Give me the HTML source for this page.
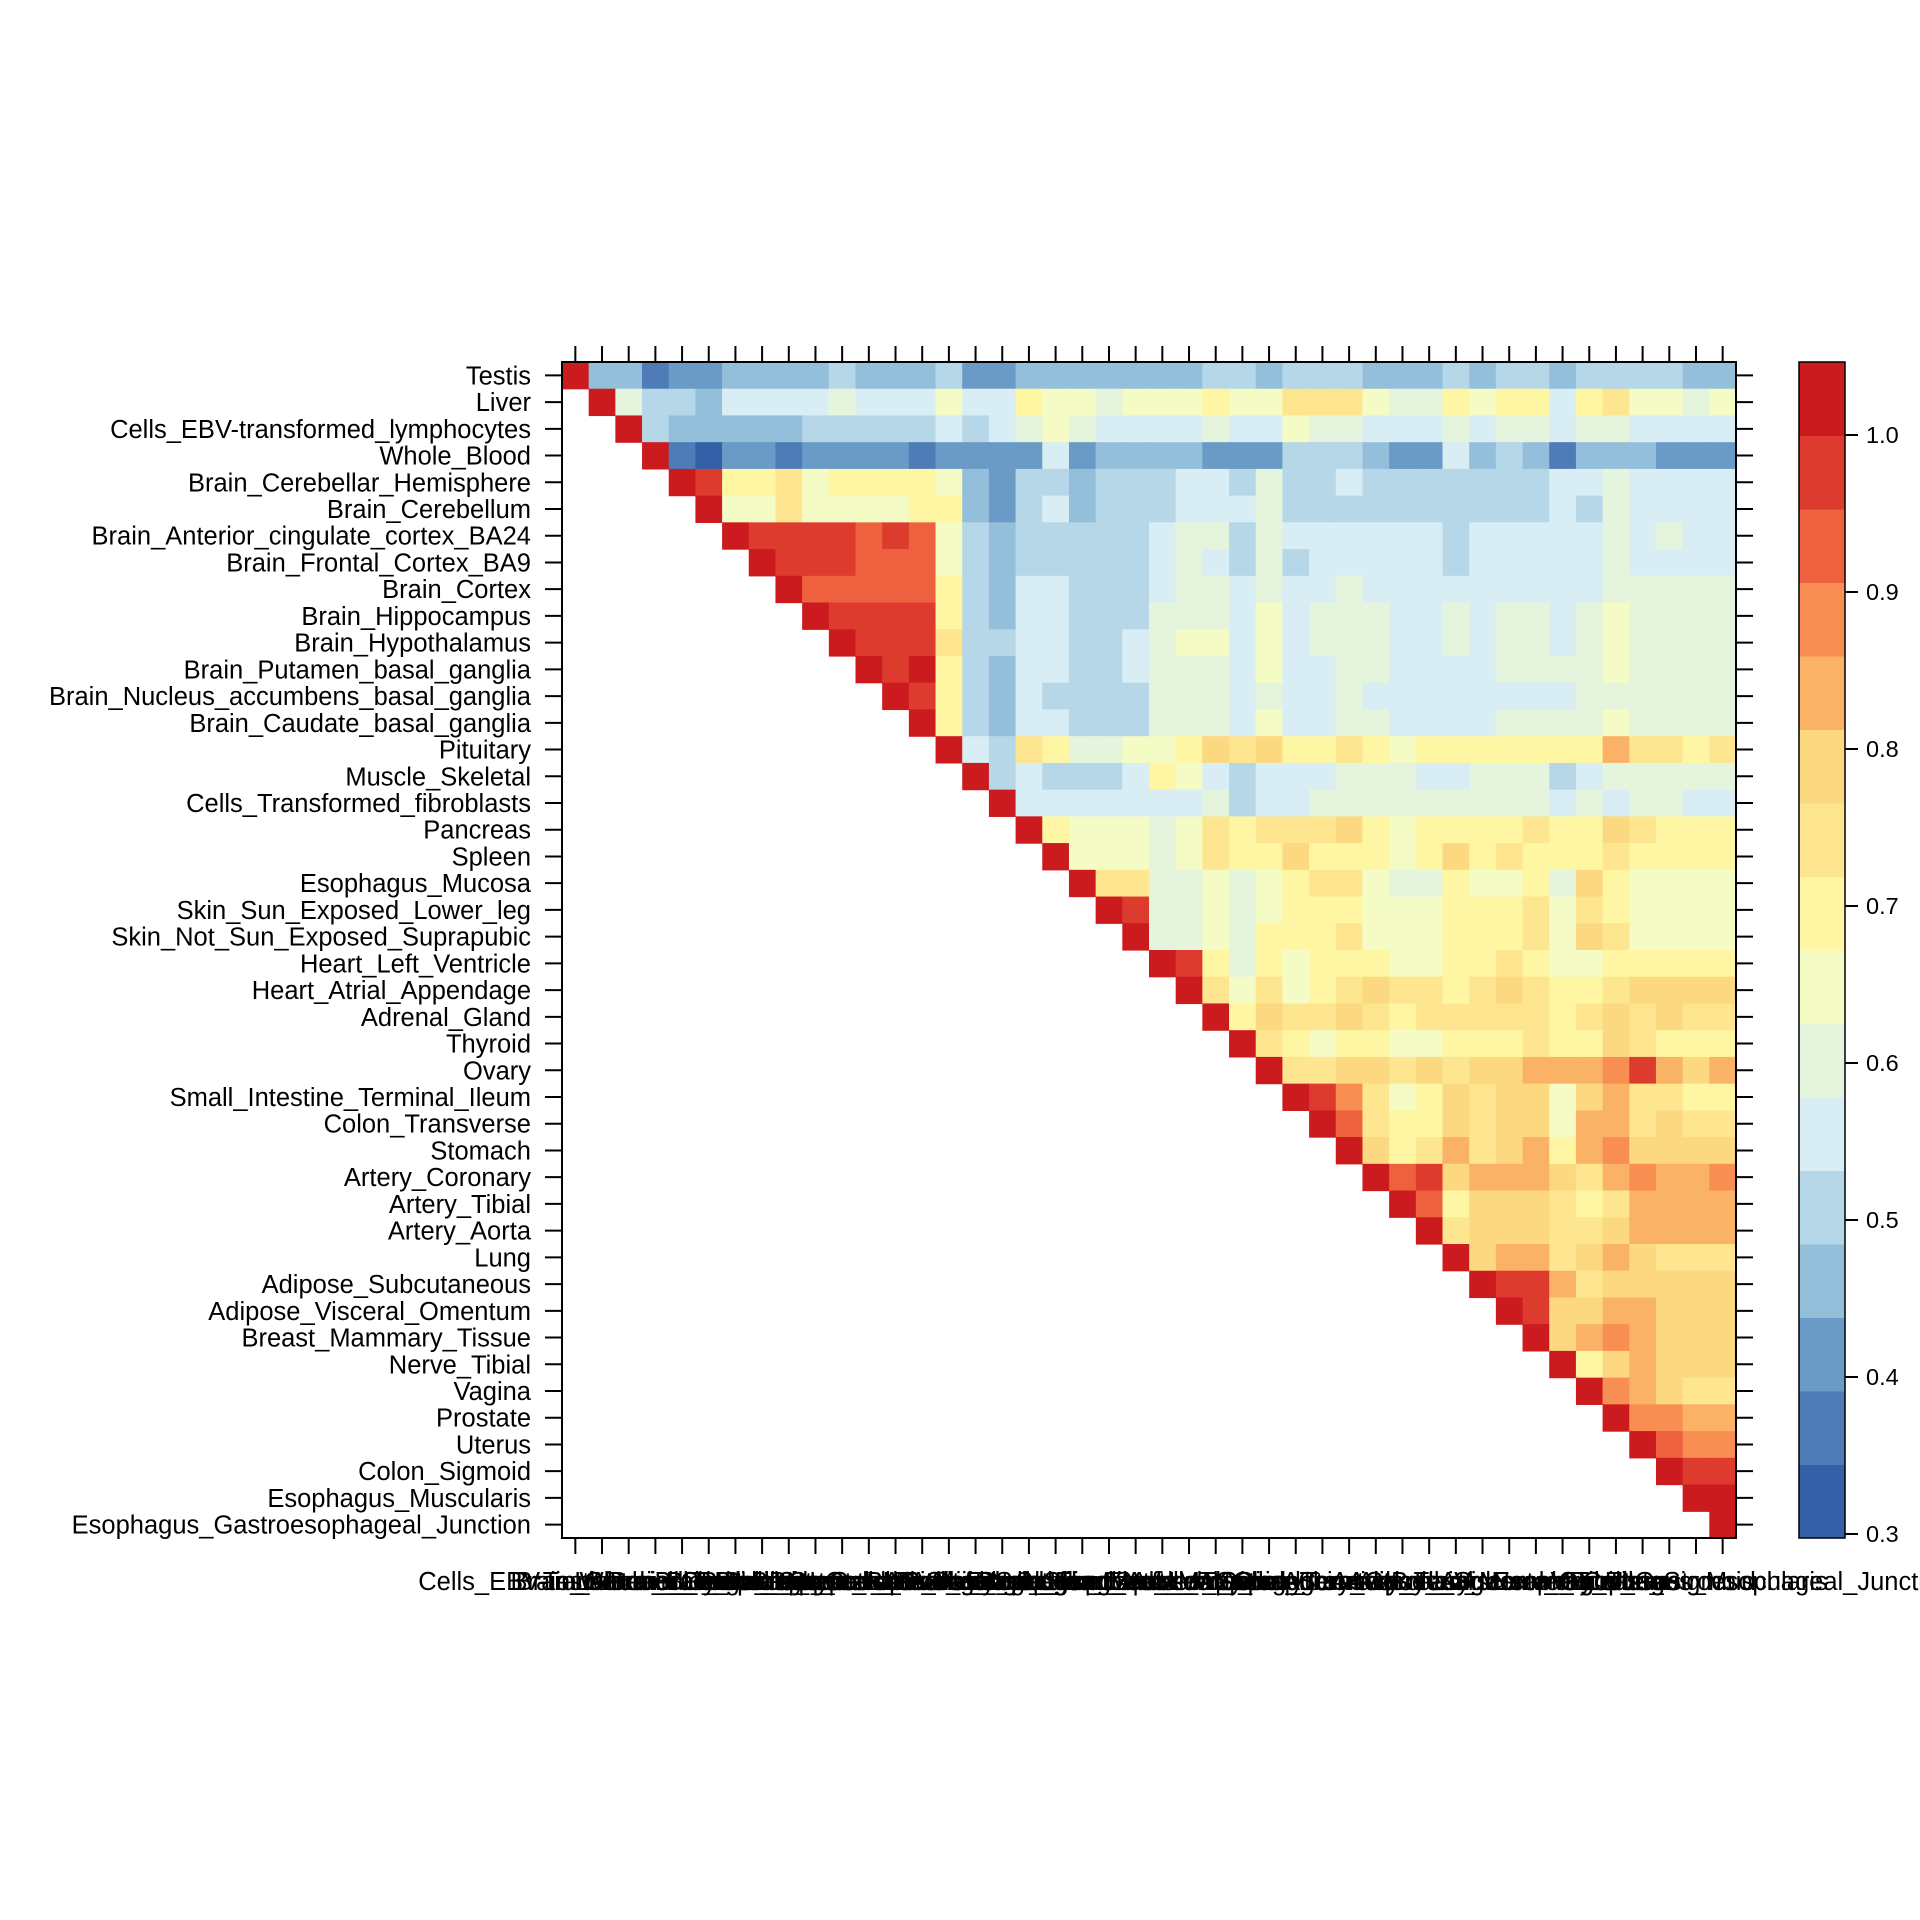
<!DOCTYPE html>
<html><head><meta charset="utf-8">
<style>
html,body{margin:0;padding:0;background:#fff;}
svg{display:block;}
text{font-family:"Liberation Sans",Arial,sans-serif;fill:#000;}
</style></head>
<body>
<svg id="chart" width="1920" height="1920" viewBox="0 0 1920 1920" xmlns="http://www.w3.org/2000/svg">
<rect width="1920" height="1920" fill="#fff"/>
<g id="cells"></g>
<g id="axes"></g>
<g id="legend"></g>
</svg>
<script>
const tissues = ["Testis","Liver","Cells_EBV-transformed_lymphocytes","Whole_Blood","Brain_Cerebellar_Hemisphere","Brain_Cerebellum","Brain_Anterior_cingulate_cortex_BA24","Brain_Frontal_Cortex_BA9","Brain_Cortex","Brain_Hippocampus","Brain_Hypothalamus","Brain_Putamen_basal_ganglia","Brain_Nucleus_accumbens_basal_ganglia","Brain_Caudate_basal_ganglia","Pituitary","Muscle_Skeletal","Cells_Transformed_fibroblasts","Pancreas","Spleen","Esophagus_Mucosa","Skin_Sun_Exposed_Lower_leg","Skin_Not_Sun_Exposed_Suprapubic","Heart_Left_Ventricle","Heart_Atrial_Appendage","Adrenal_Gland","Thyroid","Ovary","Small_Intestine_Terminal_Ileum","Colon_Transverse","Stomach","Artery_Coronary","Artery_Tibial","Artery_Aorta","Lung","Adipose_Subcutaneous","Adipose_Visceral_Omentum","Breast_Mammary_Tissue","Nerve_Tibial","Vagina","Prostate","Uterus","Colon_Sigmoid","Esophagus_Muscularis","Esophagus_Gastroesophageal_Junction"];
const legendTicks = [0.3,0.4,0.5,0.6,0.7,0.8,0.9,1.0];
const legendColors = ["#3560A7","#4F7BB7","#6A9AC6","#94BFDB","#B6D7E8","#D9EEF4","#E5F5DD","#F5FBC4","#FEF6A2","#FDE68F","#FCD880","#FAB267","#F98E52","#EE613F","#DC3B2E","#CB1B1E"];
// upper-triangle correlations; row i starts at column i
const corr = [
[1,.47,.47,.38,.42,.42,.47,.47,.47,.47,.52,.47,.47,.47,.52,.42,.42,.47,.47,.47,.47,.47,.47,.47,.52,.52,.47,.52,.52,.52,.47,.47,.47,.52,.47,.52,.52,.47,.52,.52,.52,.52,.47,.47],
[1,.61,.52,.52,.47,.56,.56,.56,.56,.61,.56,.56,.56,.65,.56,.56,.70,.65,.65,.61,.65,.65,.65,.70,.65,.65,.75,.75,.75,.65,.61,.61,.70,.65,.70,.70,.56,.70,.75,.65,.65,.61,.65],
[1,.52,.47,.47,.47,.47,.47,.52,.52,.52,.52,.52,.56,.52,.56,.61,.65,.61,.56,.56,.56,.56,.61,.56,.56,.65,.61,.61,.56,.56,.56,.61,.56,.61,.61,.56,.61,.61,.56,.56,.56,.56],
[1,.38,.33,.42,.42,.38,.42,.42,.42,.42,.38,.42,.42,.42,.42,.56,.42,.47,.47,.47,.47,.42,.42,.42,.52,.52,.52,.47,.42,.42,.56,.47,.52,.47,.38,.47,.47,.47,.42,.42,.42],
[1,.98,.70,.70,.75,.65,.70,.70,.70,.70,.65,.47,.42,.52,.52,.47,.52,.52,.52,.56,.56,.52,.61,.52,.52,.56,.52,.52,.52,.52,.52,.52,.52,.56,.56,.61,.56,.56,.56,.56],
[1,.65,.65,.75,.65,.65,.65,.65,.70,.70,.47,.42,.52,.56,.47,.52,.52,.52,.56,.56,.56,.61,.52,.52,.52,.52,.52,.52,.52,.52,.52,.52,.56,.52,.61,.56,.56,.56,.56],
[1,.98,.98,.98,.98,.93,.98,.93,.65,.52,.47,.52,.52,.52,.52,.52,.56,.61,.61,.52,.61,.56,.56,.56,.56,.56,.56,.52,.56,.56,.56,.56,.56,.61,.56,.61,.56,.56],
[1,.98,.98,.98,.93,.93,.93,.65,.52,.47,.52,.52,.52,.52,.52,.56,.61,.56,.52,.61,.52,.56,.56,.56,.56,.56,.52,.56,.56,.56,.56,.56,.61,.56,.56,.56,.56],
[1,.93,.93,.93,.93,.93,.70,.52,.47,.56,.56,.52,.52,.52,.56,.61,.61,.56,.61,.56,.56,.61,.56,.56,.56,.56,.56,.56,.56,.56,.56,.61,.61,.61,.61,.61],
[1,.98,.98,.98,.98,.70,.52,.47,.56,.56,.52,.52,.52,.61,.61,.61,.56,.65,.56,.61,.61,.61,.56,.56,.61,.56,.61,.61,.56,.61,.65,.61,.61,.61,.61],
[1,.98,.98,.98,.75,.52,.52,.56,.56,.52,.52,.56,.61,.65,.65,.56,.65,.56,.61,.61,.61,.56,.56,.61,.56,.61,.61,.56,.61,.65,.61,.61,.61,.61],
[1,.98,1,.70,.52,.47,.56,.56,.52,.52,.56,.61,.61,.61,.56,.65,.56,.56,.61,.61,.56,.56,.56,.56,.61,.61,.61,.61,.65,.61,.61,.61,.61],
[1,.98,.70,.52,.47,.56,.52,.52,.52,.52,.61,.61,.61,.56,.61,.56,.56,.61,.56,.56,.56,.56,.56,.56,.56,.56,.61,.61,.61,.61,.61,.61],
[1,.70,.52,.47,.56,.56,.52,.52,.52,.61,.61,.61,.56,.65,.56,.56,.61,.61,.56,.56,.56,.56,.61,.61,.61,.61,.65,.61,.61,.61,.61],
[1,.56,.52,.75,.70,.61,.61,.65,.65,.70,.79,.75,.79,.70,.70,.75,.70,.65,.70,.70,.70,.70,.70,.70,.70,.84,.75,.75,.70,.75],
[1,.52,.56,.52,.52,.52,.56,.70,.65,.56,.52,.56,.56,.56,.61,.61,.61,.56,.56,.61,.61,.61,.52,.56,.61,.61,.61,.61,.61],
[1,.56,.56,.56,.56,.56,.56,.56,.61,.52,.56,.56,.61,.61,.61,.61,.61,.61,.61,.61,.61,.56,.61,.56,.61,.61,.56,.56],
[1,.70,.65,.65,.65,.61,.65,.75,.70,.75,.75,.75,.79,.70,.65,.70,.70,.70,.70,.75,.70,.70,.79,.75,.70,.70,.70],
[1,.65,.65,.65,.61,.65,.75,.70,.70,.79,.70,.70,.70,.65,.70,.79,.70,.75,.70,.70,.70,.75,.70,.70,.70,.70],
[1,.75,.75,.61,.61,.65,.61,.65,.70,.75,.75,.65,.61,.61,.70,.65,.65,.70,.61,.79,.70,.65,.65,.65,.65],
[1,.98,.61,.61,.65,.61,.65,.70,.70,.70,.65,.65,.65,.70,.70,.70,.75,.65,.75,.70,.65,.65,.65,.65],
[1,.61,.61,.65,.61,.70,.70,.70,.75,.65,.65,.65,.70,.70,.70,.75,.65,.79,.75,.65,.65,.65,.65],
[1,.98,.70,.61,.70,.65,.70,.70,.70,.65,.65,.70,.70,.75,.70,.65,.65,.70,.70,.70,.70,.70],
[1,.75,.65,.75,.65,.70,.75,.79,.75,.75,.70,.75,.79,.75,.70,.70,.75,.79,.79,.79,.79],
[1,.70,.79,.75,.75,.79,.75,.70,.75,.75,.75,.75,.75,.70,.75,.79,.75,.79,.75,.75],
[1,.75,.70,.65,.70,.70,.65,.65,.70,.70,.70,.75,.70,.70,.79,.75,.70,.70,.70],
[1,.75,.75,.79,.79,.75,.79,.75,.79,.79,.84,.84,.84,.88,.98,.84,.79,.84],
[1,.98,.88,.75,.65,.70,.79,.75,.79,.79,.65,.79,.84,.75,.75,.70,.70],
[1,.93,.75,.70,.70,.79,.75,.79,.79,.65,.84,.84,.75,.79,.75,.75],
[1,.79,.70,.75,.84,.75,.79,.84,.70,.84,.88,.79,.79,.79,.79],
[1,.93,.98,.79,.84,.84,.84,.79,.75,.84,.88,.84,.84,.88],
[1,.93,.70,.79,.79,.79,.75,.70,.75,.84,.84,.84,.84],
[1,.75,.79,.79,.79,.75,.75,.79,.84,.84,.84,.84],
[1,.79,.84,.84,.75,.79,.84,.79,.75,.75,.75],
[1,.98,.98,.84,.75,.79,.79,.79,.79,.79],
[1,.98,.79,.79,.84,.84,.79,.79,.79],
[1,.79,.84,.88,.84,.79,.79,.79],
[1,.70,.79,.84,.79,.79,.79],
[1,.88,.84,.79,.75,.75],
[1,.88,.88,.84,.84],
[1,.93,.88,.88],
[1,.98,.98],
[1,1],
[1]
];

const NS = "http://www.w3.org/2000/svg";
const X0 = 562, X1 = 1736, Y0 = 362, Y1 = 1538;
const n = tissues.length;
const cw = (X1 - X0) / n, ch = (Y1 - Y0) / n;
const binLo = 0.3075, binW = 0.04615;
function colorOf(v){ let k = Math.floor((v - binLo) / binW); if (k < 0) k = 0; if (k > 15) k = 15; return legendColors[k]; }
function xPos(j){ return X0 + j * cw; }
function yPos(i){ return Y0 + i * ch; }
function mk(tag, attrs, parent){ const e = document.createElementNS(NS, tag); for (const k in attrs) e.setAttribute(k, attrs[k]); parent.appendChild(e); return e; }

const cells = document.getElementById("cells");
corr.forEach((row, i) => {
  row.forEach((v, k) => {
    const j = i + k;
    const r = mk("rect", {x: xPos(j).toFixed(2), y: yPos(i).toFixed(2), width: (cw + 0.6).toFixed(2), height: (ch + 0.6).toFixed(2), fill: colorOf(v)}, cells);
    
    
  });
});

const axes = document.getElementById("axes");
const frame = mk("rect", {x: X0, y: Y0, width: X1 - X0, height: Y1 - Y0, fill: "none", stroke: "#000", "stroke-width": 2}, axes);


tissues.forEach((t, i) => {
  const cy = yPos(i) + ch / 2, cx = xPos(i) + cw / 2;
  mk("line", {x1: 545, y1: cy, x2: X0, y2: cy, stroke: "#000", "stroke-width": 2}, axes);
  mk("line", {x1: X1, y1: cy, x2: X1 + 17, y2: cy, stroke: "#000", "stroke-width": 2}, axes);
  mk("line", {x1: cx, y1: 346, x2: cx, y2: Y0, stroke: "#000", "stroke-width": 2}, axes);
  mk("line", {x1: cx, y1: Y1, x2: cx, y2: Y1 + 16, stroke: "#000", "stroke-width": 2}, axes);
  const yl = mk("text", {x: 531, y: cy + 9, "text-anchor": "end", "font-size": 25.5}, axes);
  yl.textContent = t;
  
  
  const xl = mk("text", {x: cx, y: 1590, "text-anchor": "middle", "font-size": 25.5}, axes);
  xl.textContent = t;
  
  
});

const legend = document.getElementById("legend");
const LX = 1799, LW = 46, bh = (Y1 - Y0) / legendColors.length;
legendColors.forEach((c, k) => {
  const r = mk("rect", {x: LX, y: (Y1 - (k + 1) * bh).toFixed(2), width: LW, height: (bh + 0.5).toFixed(2), fill: c}, legend);
  
  
});
const lb = mk("rect", {x: LX, y: Y0, width: LW, height: Y1 - Y0, fill: "none", stroke: "#000", "stroke-width": 1.5}, legend);


function legY(v){ return 1534 - (v - 0.3) / 0.7 * (1534 - 435); }
legendTicks.forEach(v => {
  const y = legY(v);
  mk("line", {x1: LX + LW, y1: y, x2: LX + LW + 13, y2: y, stroke: "#000", "stroke-width": 2}, legend);
  const t = mk("text", {x: 1866, y: y + 8, "font-size": 23.5}, legend);
  t.textContent = v.toFixed(1);
  
  
});
</script>
</body></html>
